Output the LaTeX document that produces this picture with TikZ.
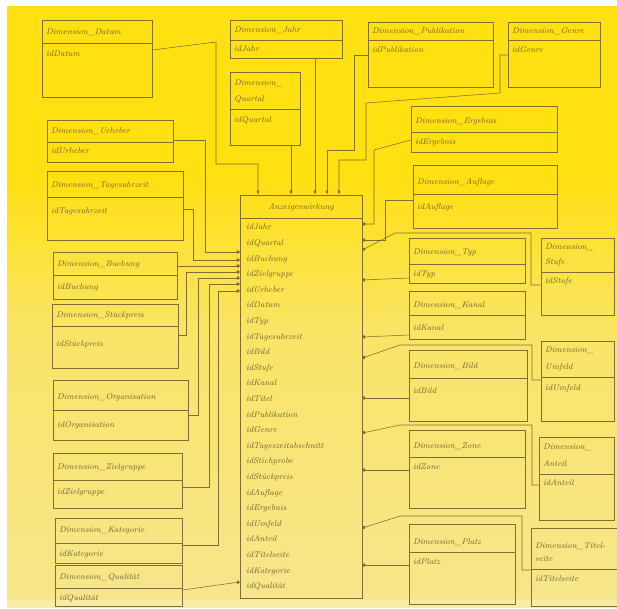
\documentclass[tikz,border=0pt]{standalone}
\usetikzlibrary{fit,arrows.meta}
\definecolor{ink}{HTML}{7F6E35}
\definecolor{txt}{HTML}{6E5F2E}
\definecolor{yA}{HTML}{FFE010}
\definecolor{yB}{HTML}{FAE466}
\definecolor{yC}{HTML}{F6E68C}
\begin{document}
\begin{tikzpicture}[x=1pt,y=-1pt,
  box/.style={draw=ink, inner sep=0pt, line width=0.6pt},
  lbl/.style={anchor=west, text=txt, font=\fontsize{8.3}{9}\selectfont\itshape, inner sep=0pt},
  link/.style={draw=ink, line width=0.55pt},
  arr/.style={link, -{Latex[length=4pt,width=3pt]}},
  dot/.style={link, -{Circle[length=3.4pt]}}]
\useasboundingbox (0,0) rectangle (617,608);
\fill[white] (0,0) rectangle (617,608);
\fill[yA] (7,6) rectangle (617,175);
\shade[top color=yA, bottom color=yB] (7,175) rectangle (617,330);
\shade[top color=yB, bottom color=yC] (7,330) rectangle (617,600);
\fill[yC!80!white] (7,600) rectangle (617,608);

% ---------- top row ----------
\node[box, fit={(42,20) (152,97)}] (datum) {};
\draw[link] (datum.west |- 0,43) -- (datum.east |- 0,43);
\node[lbl] (datumT) at (46,32) {Dimension\_Datum};
\node[lbl] (datumI) at (46,54) {idDatum};

\node[box, fit={(230,20) (342,58)}] (jahr) {};
\draw[link] (jahr.west |- 0,40) -- (jahr.east |- 0,40);
\node[lbl] (jahrT) at (234,30) {Dimension\_Jahr};
\node[lbl] (jahrI) at (234,49) {idJahr};

\node[box, fit={(230,72) (300,145)}] (quartal) {};
\draw[link] (quartal.west |- 0,109) -- (quartal.east |- 0,109);
\node[lbl] (quartalT1) at (234,83) {Dimension\_};
\node[lbl] (quartalT2) at (234,99) {Quartal};
\node[lbl] (quartalI) at (234,120) {idQuartal};

\node[box, fit={(368,22) (493,87)}] (publ) {};
\draw[link] (publ.west |- 0,40) -- (publ.east |- 0,40);
\node[lbl] (publT) at (372,31) {Dimension\_Publikation};
\node[lbl] (publI) at (372,50) {idPublikation};

\node[box, fit={(508,22) (600,87)}] (genre) {};
\draw[link] (genre.west |- 0,40) -- (genre.east |- 0,40);
\node[lbl] (genreT) at (512,31) {Dimension\_Genre};
\node[lbl] (genreI) at (512,50) {idGenre};

% ---------- left column ----------
\node[box, fit={(47,120) (173,162)}] (urheber) {};
\draw[link] (urheber.west |- 0,142) -- (urheber.east |- 0,142);
\node[lbl] (urheberT) at (51,131) {Dimension\_Urheber};
\node[lbl] (urheberI) at (51,151) {idUrheber};

\node[box, fit={(47,171) (183,240)}] (tag) {};
\draw[link] (tag.west |- 0,197) -- (tag.east |- 0,197);
\node[lbl] (tagT) at (51,185) {Dimension\_Tagesuhrzeit};
\node[lbl] (tagI) at (51,211) {idTagesuhrzeit};

\node[box, fit={(53,252) (177,299)}] (buchung) {};
\draw[link] (buchung.west |- 0,275) -- (buchung.east |- 0,275);
\node[lbl] (buchungT) at (57,264) {Dimension\_Buchung};
\node[lbl] (buchungI) at (57,287) {idBuchung};

\node[box, fit={(52,304) (178,368)}] (stueck) {};
\draw[link] (stueck.west |- 0,326) -- (stueck.east |- 0,326);
\node[lbl] (stueckT) at (56,315) {Dimension\_Stückpreis};
\node[lbl] (stueckI) at (56,344) {idStückpreis};

\node[box, fit={(53,380) (188,440)}] (org) {};
\draw[link] (org.west |- 0,410) -- (org.east |- 0,410);
\node[lbl] (orgT) at (57,397) {Dimension\_Organisation};
\node[lbl] (orgI) at (57,425) {idOrganisation};

\node[box, fit={(53,453) (182,508)}] (ziel) {};
\draw[link] (ziel.west |- 0,480) -- (ziel.east |- 0,480);
\node[lbl] (zielT) at (57,467) {Dimension\_Zielgruppe};
\node[lbl] (zielI) at (57,492) {idZielgruppe};

\node[box, fit={(55,518) (182,563)}] (kat) {};
\draw[link] (kat.west |- 0,543) -- (kat.east |- 0,543);
\node[lbl] (katT) at (59,531) {Dimension\_Kategorie};
\node[lbl] (katI) at (59,554) {idKategorie};

\node[box, fit={(55,565) (182,606)}] (qual) {};
\draw[link] (qual.west |- 0,588) -- (qual.east |- 0,588);
\node[lbl] (qualT) at (59,577) {Dimension\_Qualität};
\node[lbl] (qualI) at (59,598) {idQualität};

% ---------- fact table ----------
\node[box, fit={(240,195) (362,598)}] (fakt) {};
\draw[link] (fakt.west |- 0,218) -- (fakt.east |- 0,218);
\node[lbl, anchor=center] (faktT) at (301,207) {Anzeigenwirkung};
\node[lbl, anchor=north west, align=left, font=\fontsize{8.3}{15.6}\selectfont\itshape] (faktL) at (246,224) {%
idJahr\\ idQuartal\\ idBuchung\\ idZielgruppe\\ idUrheber\\ idDatum\\ idTyp\\
idTagesuhrzeit\\ idBild\\ idStufe\\ idKanal\\ idTitel\\ idPublikation\\ idGenre\\
idTageszeitabschnitt\\ idStichprobe\\ idStückpreis\\ idAuflage\\ idErgebnis\\
idUmfeld\\ idAnteil\\ idTitelseite\\ idKategorie\\ idQualität};

% ---------- right side ----------
\node[box, fit={(411,106) (557,152)}] (erg) {};
\draw[link] (erg.west |- 0,132) -- (erg.east |- 0,132);
\node[lbl] (ergT) at (415,121) {Dimension\_Ergebnis};
\node[lbl] (ergI) at (415,142) {idErgebnis};

\node[box, fit={(413,165) (557,228)}] (aufl) {};
\draw[link] (aufl.west |- 0,194) -- (aufl.east |- 0,194);
\node[lbl] (auflT) at (417,182) {Dimension\_Auflage};
\node[lbl] (auflI) at (417,207) {idAuflage};

\node[box, fit={(409,238) (525,283)}] (typ) {};
\draw[link] (typ.west |- 0,264) -- (typ.east |- 0,264);
\node[lbl] (typT) at (413,253) {Dimension\_Typ};
\node[lbl] (typI) at (413,274) {idTyp};

\node[box, fit={(409,291) (525,339)}] (kanal) {};
\draw[link] (kanal.west |- 0,315) -- (kanal.east |- 0,315);
\node[lbl] (kanalT) at (413,305) {Dimension\_Kanal};
\node[lbl] (kanalI) at (413,328) {idKanal};

\node[box, fit={(409,350) (527,421)}] (bild) {};
\draw[link] (bild.west |- 0,378) -- (bild.east |- 0,378);
\node[lbl] (bildT) at (413,366) {Dimension\_Bild};
\node[lbl] (bildI) at (413,391) {idBild};

\node[box, fit={(409,430) (525,508)}] (zone) {};
\draw[link] (zone.west |- 0,457) -- (zone.east |- 0,457);
\node[lbl] (zoneT) at (413,446) {Dimension\_Zone};
\node[lbl] (zoneI) at (413,467) {idZone};

\node[box, fit={(409,524) (515,604)}] (platz) {};
\draw[link] (platz.west |- 0,552) -- (platz.east |- 0,552);
\node[lbl] (platzT) at (413,542) {Dimension\_Platz};
\node[lbl] (platzI) at (413,562) {idPlatz};

\node[box, fit={(541,238) (614,315)}] (stufe) {};
\draw[link] (stufe.west |- 0,272) -- (stufe.east |- 0,272);
\node[lbl] (stufeT1) at (545,247) {Dimension\_};
\node[lbl] (stufeT2) at (545,262) {Stufe};
\node[lbl] (stufeI) at (545,281) {idStufe};

\node[box, fit={(541,341) (614,421)}] (umfeld) {};
\draw[link] (umfeld.west |- 0,377) -- (umfeld.east |- 0,377);
\node[lbl] (umfeldT1) at (545,350) {Dimension\_};
\node[lbl] (umfeldT2) at (545,367) {Umfeld};
\node[lbl] (umfeldI) at (545,388) {idUmfeld};

\node[box, fit={(539,437) (614,520)}] (anteil) {};
\draw[link] (anteil.west |- 0,474) -- (anteil.east |- 0,474);
\node[lbl] (anteilT1) at (543,447) {Dimension\_};
\node[lbl] (anteilT2) at (543,464) {Anteil};
\node[lbl] (anteilI) at (543,483) {idAnteil};

\node[box, fit={(531,528) (617,606)}] (titels) {};
\draw[link] (titels.west |- 0,569) -- (titels.east |- 0,569);
\node[lbl] (titelsT1) at (535,546) {Dimension\_Titel-};
\node[lbl] (titelsT2) at (535,559) {seite};
\node[lbl] (titelsI) at (535,579) {idTitelseite};

% ---------- connectors: top ----------
\draw[arr] (datum.east |- 0,50) -- (216,42) -- (216,164) -- (258,164) -- (fakt.north -| 258,0);
\draw[arr] (quartal.south -| 291,0) -- (fakt.north -| 291,0);
\draw[arr] (jahr.south -| 315,0) -- (fakt.north -| 315,0);
\draw[arr] (publ.west |- 0,55) -- (354,55) -- (354,150) -- (327,150) -- (fakt.north -| 327,0);
\draw[arr] (genre.west |- 0,55) -- (500,55) -- (500,93) -- (366,103) -- (366,160) -- (339,160) -- (fakt.north -| 339,0);

% ---------- connectors: left ----------
\draw[dot] (urheber.east |- 0,140) -- (205,140) -- (205,252) -- (fakt.west |- 0,252);
\draw[dot] (tag.east |- 0,209) -- (193,209) -- (193,260) -- (fakt.west |- 0,260);
\draw[dot] (buchung.east |- 0,266) -- (fakt.west |- 0,266);
\draw[dot] (stueck.east |- 0,335) -- (186,335) -- (186,272) -- (fakt.west |- 0,272);
\draw[dot] (org.east |- 0,415) -- (198,415) -- (198,278) -- (fakt.west |- 0,278);
\draw[dot] (ziel.east |- 0,487) -- (209,487) -- (209,284) -- (fakt.west |- 0,284);
\draw[dot] (kat.east |- 0,545) -- (218,545) -- (218,291) -- (fakt.west |- 0,291);
\draw[dot] (qual.east |- 0,590) -- (fakt.west |- 0,582);

% ---------- connectors: right ----------
\draw[dot] (erg.west |- 0,140) -- (374,150) -- (374,224) -- (fakt.east |- 0,224);
\draw[dot] (aufl.west |- 0,200) -- (385,200) -- (385,240) -- (fakt.east |- 0,240);
\draw[dot] (stufe.west |- 0,285) -- (531,285) -- (531,233) -- (395,233) -- (fakt.east |- 0,250);
\draw[dot] (typ.west |- 0,278) -- (fakt.east |- 0,280);
\draw[dot] (kanal.west |- 0,335) -- (fakt.east |- 0,337);
\draw[dot] (umfeld.west |- 0,380) -- (532,380) -- (532,345) -- (400,345) -- (fakt.east |- 0,358);
\draw[dot] (bild.west |- 0,398) -- (fakt.east |- 0,398);
\draw[dot] (anteil.west |- 0,485) -- (532,485) -- (532,425) -- (400,425) -- (fakt.east |- 0,433);
\draw[dot] (zone.west |- 0,470) -- (fakt.east |- 0,470);
\draw[dot] (titels.west |- 0,570) -- (522,570) -- (522,516) -- (400,516) -- (fakt.east |- 0,528);
\draw[dot] (platz.west |- 0,565) -- (fakt.east |- 0,565);
\end{tikzpicture}
\end{document}
